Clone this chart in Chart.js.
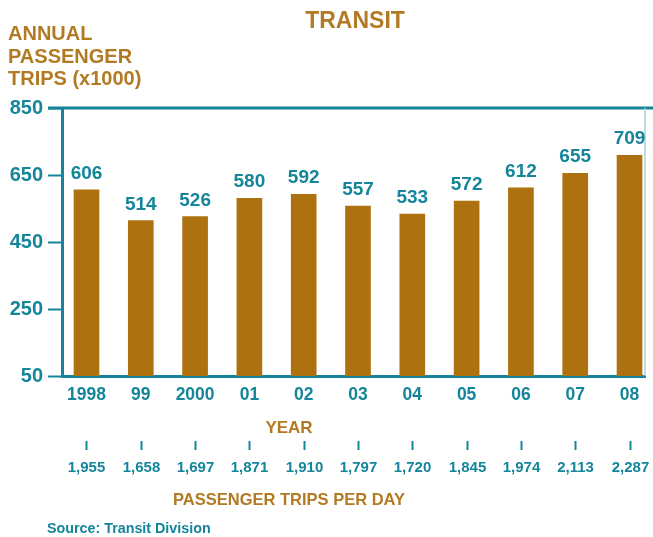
<!DOCTYPE html>
<html>
<head>
<meta charset="utf-8">
<script src="https://cdn.jsdelivr.net/npm/chart.js@4/dist/chart.umd.min.js"></script>
<style>
  html, body { margin: 0; padding: 0; background: #fff; }
  #wrap { width: 653px; height: 537px; }
</style>
</head>
<body>
<div id="wrap"><canvas id="transitChart" width="653" height="537"></canvas></div>
<script>
/* ===============================
   DATA
================================ */
const yearLabels = ['1998', '99', '2000', '01', '02', '03', '04', '05', '06', '07', '08'];
const annualTrips = [606, 514, 526, 580, 592, 557, 533, 572, 612, 655, 709]; // x1000
const dailyTrips = ['1,955', '1,658', '1,697', '1,871', '1,910', '1,797', '1,720', '1,845', '1,974', '2,113', '2,287'];
const yTicks = [50, 250, 450, 650, 850];

/* ===============================
   STYLE
================================ */
const TEAL = '#14859a';
const BROWN = '#b27a22';
const BAR = '#ad7110';
const FONT = '"Liberation Sans", Arial, Helvetica, sans-serif';

// text and frame pieces that sit outside the normal axis furniture
const decorations = {
  id: 'decorations',
  afterDraw(chart) {
    const ctx = chart.ctx;
    const area = chart.chartArea;
    const xScale = chart.scales.x;
    ctx.save();

    // frame: top line and thin right line
    ctx.strokeStyle = TEAL;
    ctx.lineWidth = 3;
    ctx.beginPath();
    ctx.moveTo(area.left - 14, area.top);
    ctx.lineTo(653, area.top);
    ctx.stroke();
    ctx.strokeStyle = '#a8d2da';
    ctx.lineWidth = 1.5;
    ctx.beginPath();
    ctx.moveTo(area.right, area.top);
    ctx.lineTo(area.right, area.bottom);
    ctx.stroke();

    // title
    ctx.fillStyle = BROWN;
    ctx.textBaseline = 'alphabetic';
    ctx.textAlign = 'center';
    ctx.font = 'bold 23px ' + FONT;
    ctx.fillText('TRANSIT', 355, 28);

    // y axis title
    ctx.textAlign = 'left';
    ctx.font = 'bold 20px ' + FONT;
    ctx.fillText('ANNUAL', 8, 40);
    ctx.fillText('PASSENGER', 8, 63);
    ctx.fillText('TRIPS (x1000)', 8, 85);

    // x titles
    ctx.textAlign = 'center';
    ctx.font = 'bold 17px ' + FONT;
    ctx.fillText('YEAR', 289, 433);
    ctx.font = 'bold 16.5px ' + FONT;
    ctx.fillText('PASSENGER TRIPS PER DAY', 289, 505);

    // value labels above bars
    const meta = chart.getDatasetMeta(0);
    ctx.fillStyle = TEAL;
    ctx.font = 'bold 19px ' + FONT;
    meta.data.forEach((bar, i) => {
      ctx.fillText(String(annualTrips[i]), bar.x, bar.y - 11);
    });

    // passenger trips per day row
    ctx.strokeStyle = TEAL;
    ctx.lineWidth = 2;
    ctx.font = 'bold 15px ' + FONT;
    dailyTrips.forEach((label, i) => {
      const px = Math.round(xScale.getPixelForValue(i)) + 0.5;
      ctx.beginPath();
      ctx.moveTo(px, 441);
      ctx.lineTo(px, 450);
      ctx.stroke();
      ctx.fillText(label, px, 472);
    });

    // source
    ctx.textAlign = 'left';
    ctx.font = 'bold 14.3px ' + FONT;
    ctx.fillText('Source: Transit Division', 47, 533);

    ctx.restore();
  },
};

/* ===============================
   CHART
================================ */
const ctx = document.getElementById('transitChart');

const transitChart = new Chart(ctx, {
  type: 'bar',
  data: {
    datasets: [
      {
        label: 'Annual passenger trips (x1000)',
        data: annualTrips.map((v, i) => ({ x: i, y: v })),
        backgroundColor: BAR,
        borderWidth: 0,
        barThickness: 25,
      },
    ],
  },
  options: {
    responsive: false,
    animation: false,
    layout: { padding: { top: 108, right: 8, left: 0, bottom: 0 } },
    plugins: {
      legend: { display: false },
      tooltip: { enabled: false },
    },
    scales: {
      x: {
        type: 'linear',
        offset: false,
        min: -0.451,
        max: 10.285,
        afterBuildTicks: (scale) => {
          scale.ticks = yearLabels.map((_, i) => ({ value: i }));
        },
        afterFit: (scale) => {
          scale.height = 161;
        },
        grid: { display: false, drawTicks: false },
        border: { display: true, color: TEAL, width: 3 },
        ticks: {
          autoSkip: false,
          maxRotation: 0,
          padding: 9,
          color: TEAL,
          font: { family: FONT, size: 17.5, weight: 'bold' },
          callback: (value) => yearLabels[value],
        },
      },
      y: {
        min: 50,
        max: 850,
        afterBuildTicks: (scale) => {
          scale.ticks = yTicks.map((v) => ({ value: v }));
        },
        afterFit: (scale) => {
          scale.width = 62;
        },
        grid: {
          drawOnChartArea: false,
          drawTicks: true,
          tickLength: 14,
          tickColor: TEAL,
          tickWidth: 2,
        },
        border: { display: true, color: TEAL, width: 3 },
        ticks: {
          padding: 5,
          color: TEAL,
          font: { family: FONT, size: 20, weight: 'bold' },
        },
      },
    },
  },
  plugins: [decorations],
});
</script>
</body>
</html>
